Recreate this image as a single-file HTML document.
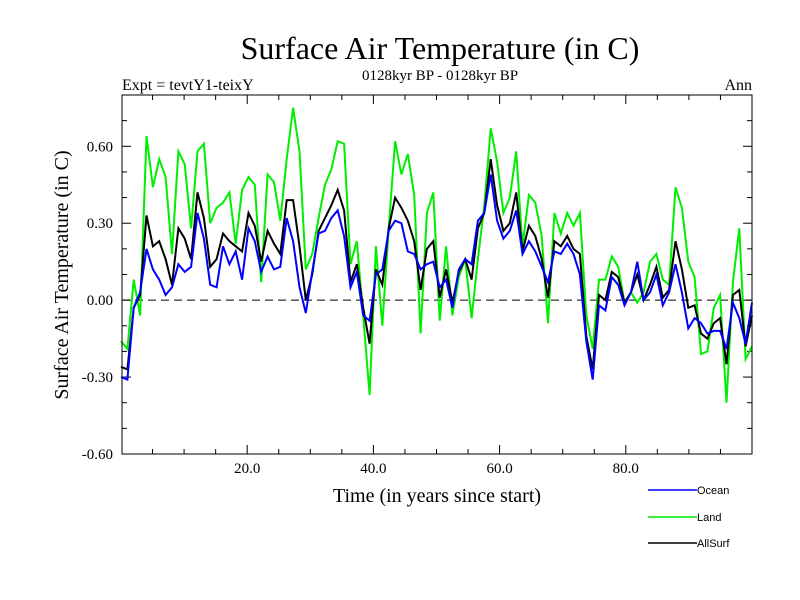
<!DOCTYPE html>
<html><head><meta charset="utf-8"><style>
body{margin:0;background:#fff}
svg{display:block}
.s{font-family:"Liberation Serif",serif;fill:#000}
.a{font-family:"Liberation Sans",sans-serif;fill:#000;font-size:11px}
</style></head><body>
<svg id="c" width="800" height="600">
<text class="s" x="440" y="59" font-size="32" text-anchor="middle">Surface Air Temperature (in C)</text>
<text class="s" x="440" y="80" font-size="15" text-anchor="middle">0128kyr BP - 0128kyr BP</text>
<text class="s" x="122" y="90" font-size="16">Expt = tevtY1-teixY</text>
<text class="s" x="752" y="90" font-size="16" text-anchor="end">Ann</text>
<text class="s" x="437" y="502" font-size="20" text-anchor="middle">Time (in years since start)</text>
<text class="s" font-size="20" text-anchor="middle" transform="translate(68,275) rotate(-90)">Surface Air Temperature (in C)</text>
<g id="ax"></g><g id="ln"></g><g id="lg"></g>
<rect x="122" y="95" width="630" height="359" fill="none" stroke="#000" stroke-width="1"/>
</svg>
<script>
const ocean=[-0.30,-0.31,-0.03,0.03,0.20,0.12,0.08,0.02,0.05,0.14,0.11,0.13,0.34,0.24,0.06,0.05,0.21,0.14,0.19,0.08,0.28,0.23,0.11,0.17,0.12,0.13,0.32,0.23,0.05,-0.05,0.11,0.26,0.27,0.32,0.35,0.25,0.05,0.11,-0.06,-0.08,0.10,0.12,0.27,0.31,0.30,0.19,0.18,0.12,0.14,0.15,0.05,0.08,-0.03,0.12,0.16,0.14,0.31,0.34,0.49,0.31,0.24,0.27,0.35,0.18,0.23,0.19,0.13,0.07,0.19,0.18,0.22,0.18,0.10,-0.16,-0.31,-0.02,-0.04,0.09,0.06,-0.02,0.03,0.15,0.00,0.03,0.10,-0.02,0.03,0.14,0.03,-0.11,-0.07,-0.09,-0.13,-0.12,-0.12,-0.19,-0.01,-0.07,-0.17,-0.01];
const land=[-0.16,-0.19,0.08,-0.06,0.64,0.44,0.55,0.48,0.18,0.58,0.53,0.28,0.58,0.61,0.30,0.36,0.38,0.42,0.22,0.43,0.48,0.45,0.07,0.49,0.46,0.31,0.55,0.75,0.58,0.12,0.18,0.32,0.45,0.51,0.62,0.61,0.14,0.23,-0.06,-0.37,0.21,-0.10,0.28,0.62,0.49,0.57,0.41,-0.13,0.34,0.42,-0.08,0.21,-0.06,0.09,0.16,-0.07,0.16,0.37,0.67,0.54,0.34,0.40,0.58,0.21,0.41,0.38,0.25,-0.09,0.34,0.26,0.34,0.29,0.34,-0.06,-0.19,0.08,0.08,0.17,0.13,-0.01,0.03,-0.01,0.03,0.15,0.18,0.08,0.06,0.44,0.36,0.15,0.09,-0.21,-0.20,-0.03,0.02,-0.40,0.07,0.28,-0.23,-0.18];
const allsurf=[-0.26,-0.27,-0.03,0.02,0.33,0.21,0.23,0.16,0.06,0.28,0.24,0.16,0.42,0.32,0.13,0.16,0.26,0.23,0.21,0.19,0.34,0.29,0.15,0.27,0.22,0.18,0.39,0.39,0.21,0.00,0.10,0.27,0.32,0.37,0.43,0.35,0.07,0.14,-0.03,-0.17,0.12,0.06,0.28,0.40,0.36,0.31,0.23,0.04,0.20,0.23,0.01,0.12,-0.01,0.11,0.16,0.08,0.28,0.34,0.55,0.37,0.27,0.30,0.42,0.19,0.29,0.25,0.16,0.01,0.23,0.21,0.25,0.20,0.18,-0.14,-0.27,0.02,0.00,0.11,0.09,-0.01,0.03,0.10,0.00,0.06,0.13,0.01,0.04,0.23,0.12,-0.03,-0.02,-0.13,-0.15,-0.09,-0.07,-0.25,0.02,0.04,-0.18,-0.06];
const xTicks=[20,40,60,80];
const xTickLabels=["20.0","40.0","60.0","80.0"];
const yTicks=[-0.6,-0.3,0,0.3,0.6];
const yTickLabels=["-0.60","-0.30","0.00","0.30","0.60"];
const NS='http://www.w3.org/2000/svg';
const X0=121,X1=752,Y0=454,Y1=95;
function xs(v){return X0+(v/100)*(X1-X0);}
function ys(v){return Y0-((v+0.6)/1.4)*(Y0-Y1);}
function mk(t,a,p){const e=document.createElementNS(NS,t);for(const k in a)e.setAttribute(k,a[k]);p.appendChild(e);return e;}
const ax=document.getElementById('ax');
for(let v=5;v<100;v+=5){const x=xs(v);const L=(v%20===0)?9:5;
 mk('line',{x1:x,x2:x,y1:Y0,y2:Y0-L,stroke:'#000'},ax);
 mk('line',{x1:x,x2:x,y1:Y1,y2:Y1+L,stroke:'#000'},ax);}
for(let k=-5;k<8;k++){const v=k/10;const y=ys(v);const L=(k%3===0)?9:5;
 mk('line',{x1:122,x2:122+L,y1:y,y2:y,stroke:'#000'},ax);
 mk('line',{x1:752,x2:752-L,y1:y,y2:y,stroke:'#000'},ax);}
xTicks.forEach((v,i)=>{const t=mk('text',{x:xs(v),y:473,'text-anchor':'middle','font-size':15,class:'s'},ax);t.textContent=xTickLabels[i];
 
 });
yTicks.forEach((v,i)=>{const t=mk('text',{x:113,y:ys(v)+5,'text-anchor':'end','font-size':15,class:'s'},ax);t.textContent=yTickLabels[i];
 
 });
const z=mk('line',{x1:122,x2:752,y1:ys(0),y2:ys(0),stroke:'#000','stroke-dasharray':'8,5'},ax);


const ln=document.getElementById('ln');
function series(d,c,name){const n=d.length;const pts=d.map((v,i)=>xs(i*100/(n-1)).toFixed(1)+','+ys(v).toFixed(1)).join(' ');
 const p=mk('polyline',{points:pts,fill:'none',stroke:c,'stroke-width':2,'stroke-linejoin':'miter'},ln);
 
 }
series(land,'#00ee00','land-line');
series(allsurf,'#000','allsurf-line');
series(ocean,'#0000ff','ocean-line');
const lg=document.getElementById('lg');
[['Ocean','#0000ff',490],['Land','#00ee00',517],['AllSurf','#000',543]].forEach(a=>{
 const g=mk('g',{},lg);
 
 
 mk('line',{x1:648,x2:697,y1:a[2],y2:a[2],stroke:a[1],'stroke-width':1.5},g);
 const t=mk('text',{x:697,y:a[2]+4,class:'a'},g);t.textContent=a[0];});
</script>
</body></html>
